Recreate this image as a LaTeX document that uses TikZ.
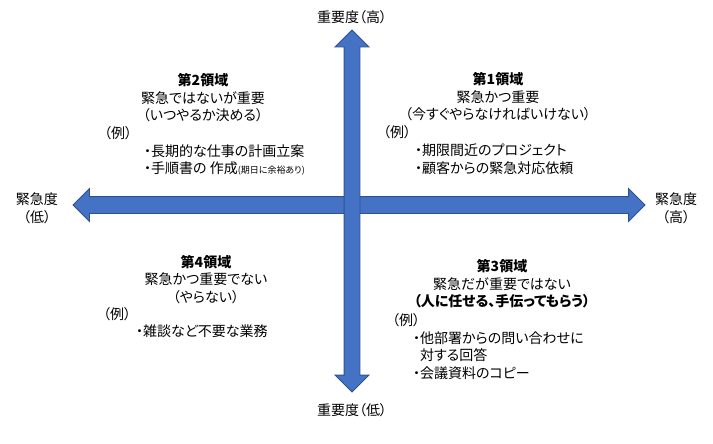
\documentclass[tikz,border=0pt]{standalone}
\usepackage{fontspec}
\setmainfont{Noto Sans CJK JP}[RawFeature=+palt]
\usetikzlibrary{shapes.arrows}
\definecolor{axisblue}{HTML}{4472C4}
\definecolor{axisline}{HTML}{2F528F}

\begin{document}
\begin{tikzpicture}[x=1pt,y=-1pt,
    axis/.style={double arrow, draw=axisline, fill=axisblue, line width=0.8pt, inner xsep=0pt},
    lbl/.style={inner sep=0pt, font=\fontsize{14}{17.6}\selectfont},
    head/.style={lbl, align=center},
    ex/.style={lbl, align=left, anchor=west}]
  \useasboundingbox (0,0) rectangle (713,444);
  % axes
  \node[axis, inner ysep=8pt, minimum height=572, minimum width=32, double arrow head extend=8] (urgency) at (359,205) {};
  \node[axis, rotate=90, inner ysep=7.5pt, minimum height=362, minimum width=33, double arrow head extend=9] (importance) at (352,211) {};
  % axis labels
  \node[lbl] (imphigh) at (352,17) {重要度（高）};
  \node[lbl] (implow) at (352,410) {重要度（低）};
  \node[head] (urglow) at (37,208) {緊急度\\（低）};
  \node[head] (urghigh) at (676,208) {緊急度\\（高）};
  % quadrant 1
  \node[head] (q1head) at (498,97) {\textbf{第1領域}\\緊急かつ重要\\（今すぐやらなければいけない）};
  \node[ex] (q1ex) at (383,150) {（例）\\\hspace*{32pt}・期限間近のプロジェクト\\\hspace*{32pt}・顧客からの緊急対応依頼};
  % quadrant 2
  \node[head] (q2head) at (203,98) {\textbf{第2領域}\\緊急ではないが重要\\（いつやるか決める）};
  \node[ex] (q2ex) at (104,151) {（例）\\\hspace*{40pt}・長期的な仕事の計画立案\\\hspace*{40pt}・手順書の 作成{\fontsize{9}{10}\selectfont(期日に余裕あり)}};
  % quadrant 3
  \node[head] (q3head) at (502,284) {\textbf{第3領域}\\緊急だが重要ではない\\\textbf{（人に任せる、手伝ってもらう）}};
  \node[ex] (q3ex) at (392,346.5) {（例）\\\hspace*{21pt}・他部署からの問い合わせに\\\hspace*{21pt}\phantom{・}対する回答\\\hspace*{21pt}・会議資料のコピー};
  % quadrant 4
  \node[head] (q4head) at (206,279.5) {\textbf{第4領域}\\緊急かつ重要でない\\（やらない）};
  \node[ex] (q4ex) at (103,322.5) {（例）\\\hspace*{33pt}・雑談など不要な業務};
\end{tikzpicture}
\end{document}
